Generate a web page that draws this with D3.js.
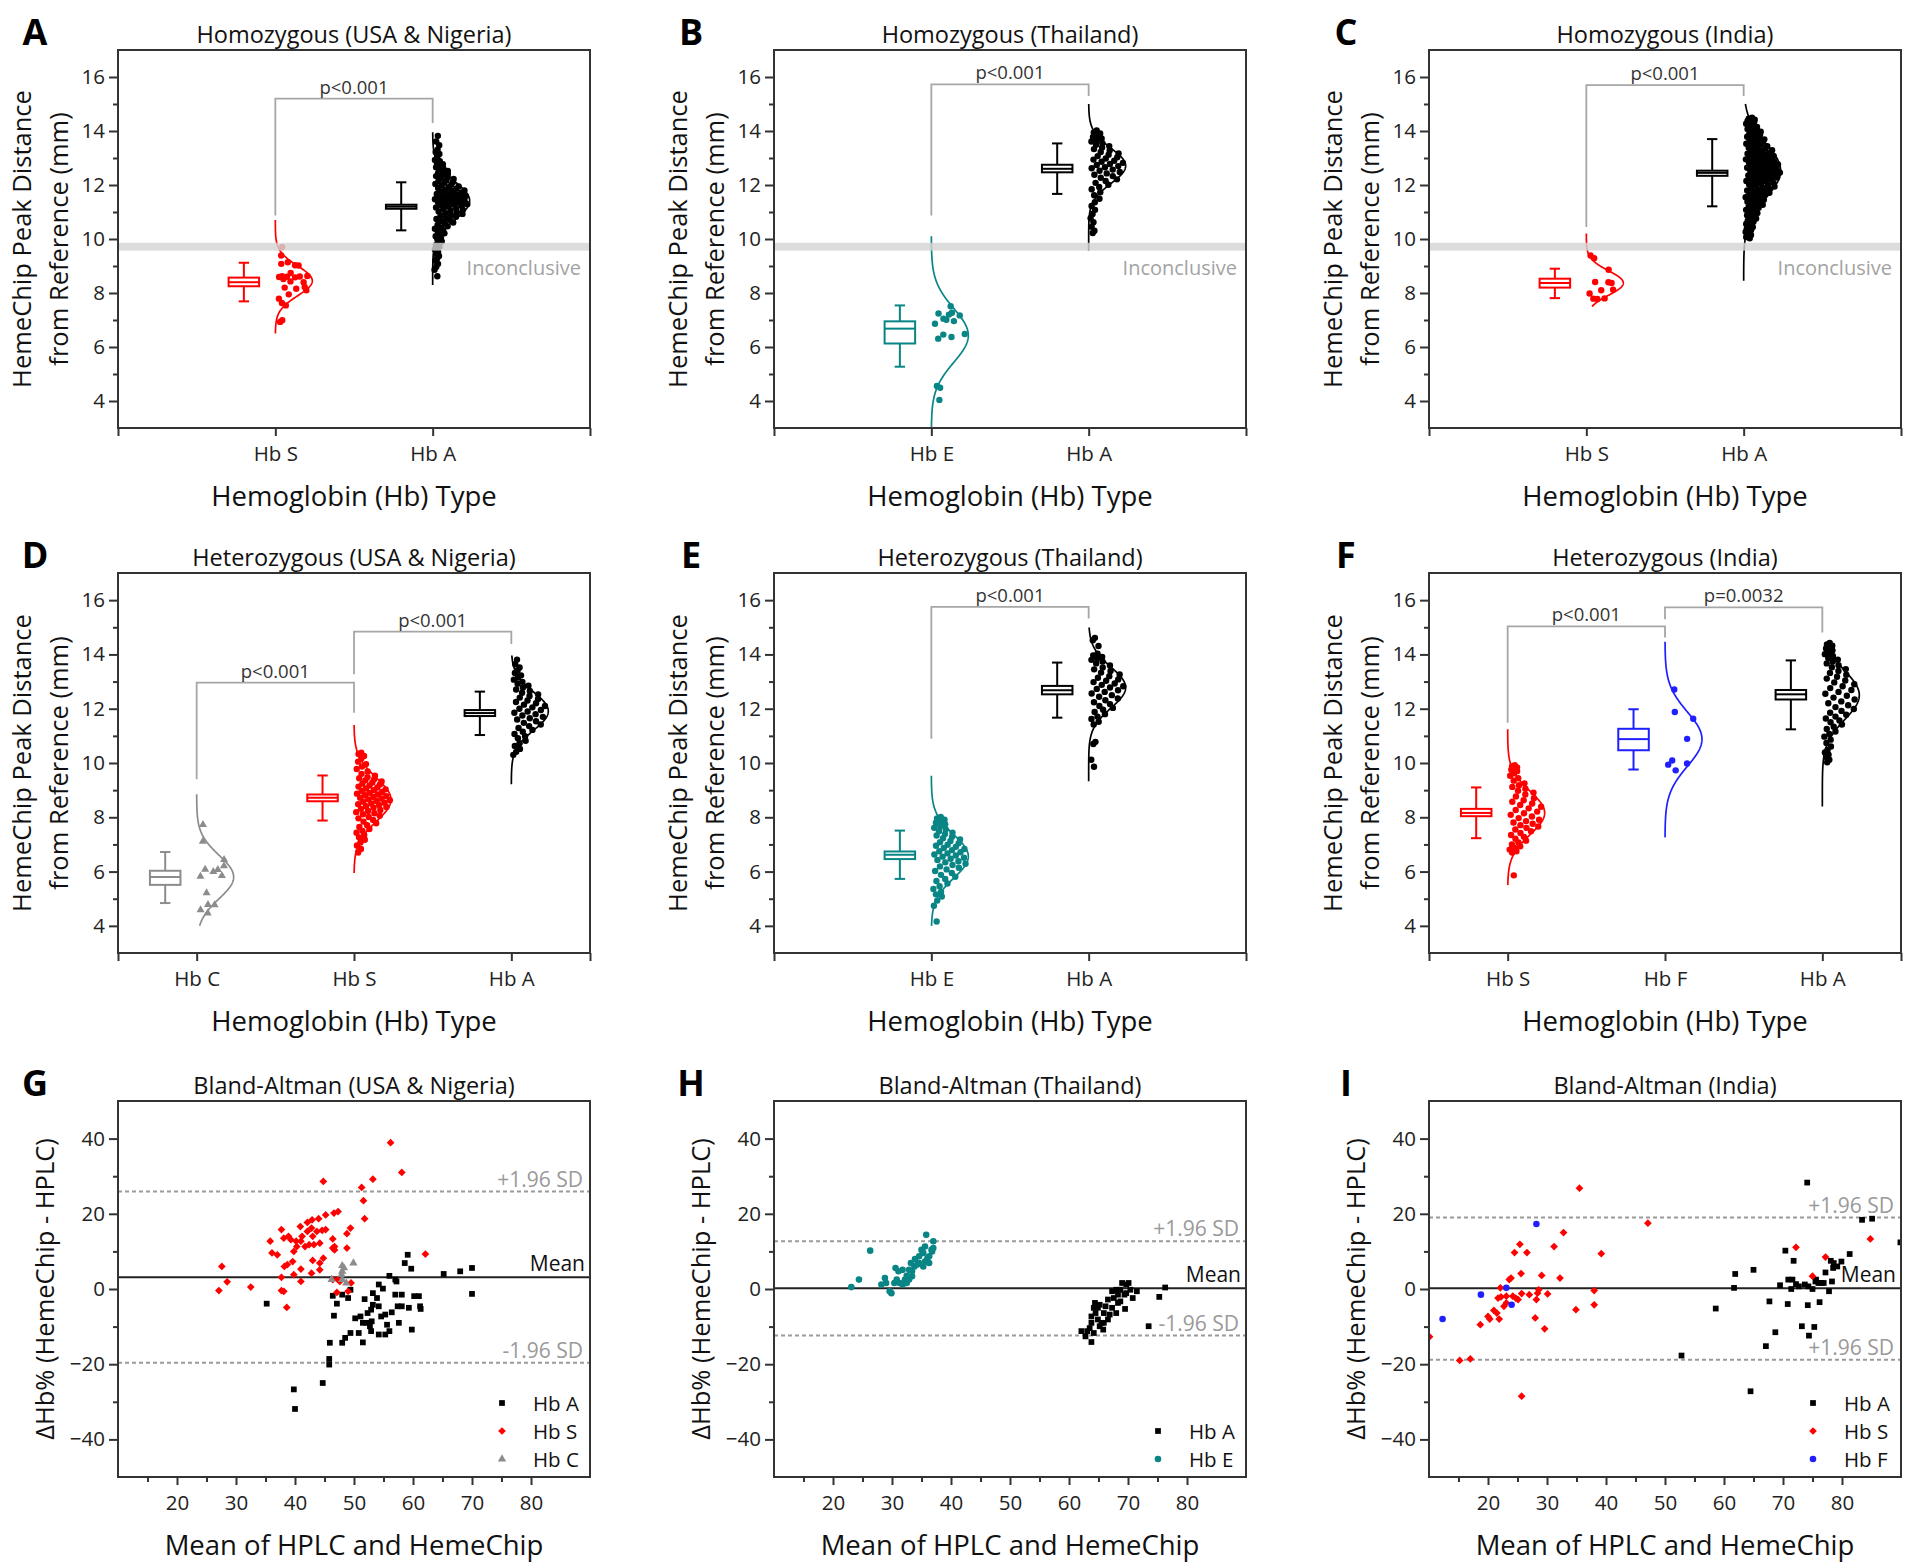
<!DOCTYPE html>
<html><head><meta charset="utf-8">
<script src="https://cdn.jsdelivr.net/npm/d3@7"></script>
<style>body{margin:0;background:#fff}</style>
</head><body>
<script>
// ---------------- DATA ----------------
// Panel A: Homozygous (USA & Nigeria)
const catsA = ["Hb S","Hb A"];
const ptsA_S = [9.70,9.39,9.02,9.14,9.08,9.03,8.74,8.59,8.61,8.60,8.63,8.58,8.62,8.40,8.43,8.10,8.16,8.20,8.22,7.95,7.79,7.54,7.63,6.99,6.93,8.52];
const ptsA_A = [13.82,13.61,13.47,13.31,13.22,13.15,13.04,12.93,12.88,12.81,12.77,12.72,12.66,12.61,12.57,12.52,12.48,12.44,12.41,12.37,12.33,12.29,12.26,12.22,12.18,12.15,12.11,12.08,12.04,12.01,11.98,11.95,11.92,11.89,11.86,11.83,11.80,11.78,11.75,11.72,11.70,11.67,11.64,11.62,11.59,11.57,11.54,11.52,11.49,11.47,11.45,11.43,11.41,11.38,11.36,11.34,11.31,11.29,11.27,11.24,11.22,11.19,11.17,11.14,11.11,11.08,11.05,11.02,10.99,10.96,10.93,10.89,10.86,10.82,10.78,10.74,10.70,10.66,10.61,10.57,10.52,10.47,10.43,10.38,10.33,10.27,10.21,10.16,10.10,10.04,9.98,9.91,9.84,9.77,9.72,9.68,9.61,9.53,9.45,9.37,9.28,9.19,9.08,8.97,8.86,8.62];
const boxA = [[7.69,8.25,8.40,8.57,9.12],[10.32,11.12,11.20,11.27,12.10]];
const curveA = [[8.45,0.55,6.5,10.7],[11.42,0.70,8.3,13.95]]; // mean, sd, from, to
const bracketA = [[1,2,15.2,10.87,14.3,"p<0.001"]];

// Panel B: Homozygous (Thailand)
const catsB = ["Hb E","Hb A"];
const ptsB_E = [7.27,7.05,7.17,7.20,7.24,7.51,7.01,6.86,6.96,6.46,6.48,6.37,6.31,4.49,4.56,4.04];
const ptsB_A = [14.02,13.95,13.91,13.84,13.78,13.72,13.66,13.61,13.55,13.49,13.44,13.39,13.33,13.28,13.22,13.17,13.12,13.07,13.03,12.98,12.94,12.90,12.86,12.82,12.78,12.74,12.70,12.66,12.62,12.57,12.53,12.48,12.43,12.38,12.33,12.27,12.21,12.15,12.08,12.01,11.93,11.84,11.73,11.62,11.49,11.36,11.22,11.08,10.93,10.77,10.62,10.45,10.31,10.22];
const boxB = [[5.27,6.13,6.68,6.95,7.54],[11.67,12.47,12.60,12.75,13.54]];
const curveB = [[6.43,1.0,2.8,10.1],[12.71,0.65,9.57,15.0]];
const bracketB = [[1,2,15.73,10.87,15.3,"p<0.001"]];

// Panel C: Homozygous (India)
const catsC = ["Hb S","Hb A"];
const ptsC_S = [9.29,9.39,8.86,8.40,8.41,8.12,8.10,7.98,8.37,7.79,7.80,7.78];
const ptsC_A = [14.49,14.46,14.42,14.40,14.37,14.33,14.30,14.27,14.22,14.18,14.15,14.11,14.07,14.04,14.01,13.97,13.93,13.90,13.86,13.83,13.79,13.76,13.72,13.69,13.66,13.62,13.59,13.56,13.53,13.50,13.47,13.44,13.41,13.38,13.35,13.32,13.29,13.26,13.24,13.21,13.18,13.16,13.13,13.10,13.08,13.05,13.03,13.00,12.98,12.95,12.93,12.90,12.88,12.85,12.83,12.81,12.78,12.76,12.74,12.71,12.69,12.67,12.64,12.62,12.60,12.58,12.55,12.53,12.51,12.49,12.46,12.44,12.42,12.39,12.37,12.35,12.32,12.30,12.28,12.25,12.23,12.20,12.18,12.15,12.13,12.10,12.08,12.05,12.02,12.00,11.97,11.94,11.91,11.89,11.86,11.83,11.80,11.77,11.74,11.71,11.68,11.65,11.62,11.59,11.55,11.52,11.49,11.45,11.42,11.38,11.35,11.31,11.27,11.24,11.20,11.16,11.12,11.08,11.04,11.00,10.96,10.92,10.88,10.84,10.80,10.76,10.72,10.68,10.64,10.60,10.56,10.52,10.48,10.44,10.40,10.37,10.33,10.30,10.26,10.23,10.19,10.15,10.11,10.07,10.03];
const boxC = [[7.81,8.20,8.37,8.53,8.90],[11.21,12.34,12.45,12.53,13.70]];
const curveC = [[8.37,0.45,7.5,10.2],[12.53,1.0,8.45,15.0]];
const bracketC = [[1,2,15.7,10.44,15.3,"p<0.001"]];

// Panel D: Heterozygous (USA & Nigeria)
const catsD = ["Hb C","Hb S","Hb A"];
const ptsD_C = [7.73,7.11,6.44,6.07,6.08,6.21,6.00,5.82,5.85,5.21,4.77,4.78,4.59,4.47];
const ptsD_S = [10.38,10.33,10.26,10.17,10.05,9.96,9.87,9.78,9.69,9.60,9.53,9.48,9.44,9.40,9.36,9.32,9.28,9.24,9.21,9.17,9.13,9.10,9.06,9.03,9.00,8.97,8.93,8.90,8.87,8.84,8.81,8.78,8.75,8.72,8.69,8.66,8.63,8.60,8.57,8.54,8.51,8.48,8.45,8.41,8.38,8.35,8.31,8.27,8.23,8.19,8.15,8.11,8.06,8.01,7.96,7.90,7.84,7.78,7.71,7.64,7.57,7.50,7.43,7.35,7.26,7.17,7.07,6.96,6.83,6.70];
const ptsD_A = [13.81,13.64,13.52,13.41,13.32,13.23,13.15,13.07,12.99,12.92,12.85,12.78,12.71,12.65,12.59,12.53,12.47,12.41,12.36,12.30,12.25,12.20,12.15,12.10,12.05,12.00,11.95,11.90,11.85,11.80,11.75,11.70,11.65,11.60,11.54,11.48,11.42,11.36,11.29,11.22,11.15,11.07,10.99,10.91,10.82,10.73,10.63,10.52,10.41,10.30];
const boxD = [[4.84,5.51,5.80,6.03,6.72],[7.88,8.59,8.72,8.84,9.54],[11.03,11.73,11.84,11.95,12.63]];
const curveD = [[5.80,0.80,4.0,8.85],[8.65,0.80,5.95,11.4],[11.91,0.70,9.22,13.96]];
const bracketD = [[1,2,12.96,9.4,11.85,"p<0.001"],[2,3,14.84,13.27,14.38,"p<0.001"]];

// Panel E: Heterozygous (Thailand)
const catsE = ["Hb E","Hb A"];
const ptsE_E = [8.01,7.96,7.91,7.86,7.80,7.74,7.67,7.61,7.55,7.49,7.43,7.38,7.33,7.28,7.23,7.18,7.13,7.08,7.04,6.99,6.95,6.91,6.87,6.83,6.79,6.75,6.71,6.67,6.63,6.59,6.55,6.51,6.47,6.43,6.38,6.34,6.29,6.24,6.19,6.14,6.08,6.02,5.95,5.88,5.81,5.73,5.65,5.56,5.46,5.36,5.25,5.16,5.08,4.93,4.74,4.16];
const ptsE_A = [14.61,14.52,14.31,14.03,13.96,13.91,13.86,13.80,13.74,13.67,13.59,13.52,13.45,13.39,13.33,13.26,13.20,13.14,13.08,13.03,12.98,12.93,12.88,12.83,12.78,12.73,12.68,12.62,12.56,12.50,12.44,12.38,12.31,12.24,12.17,12.10,12.03,11.96,11.88,11.80,11.71,11.62,11.52,11.42,10.78,10.70,10.12,9.86];
const boxE = [[5.73,6.46,6.62,6.74,7.51],[11.67,12.53,12.68,12.84,13.70]];
const curveE = [[6.56,0.80,4.0,9.53],[12.78,0.75,9.33,14.99]];
const bracketE = [[1,2,15.75,10.89,15.32,"p<0.001"]];

// Panel F: Heterozygous (India)
const catsF = ["Hb S","Hb F","Hb A"];
const ptsF_S = [9.92,9.88,9.84,9.80,9.75,9.70,9.62,9.53,9.44,9.35,9.25,9.18,9.12,9.05,8.98,8.91,8.84,8.77,8.70,8.63,8.57,8.51,8.45,8.39,8.33,8.27,8.21,8.15,8.09,8.03,7.97,7.91,7.86,7.81,7.76,7.71,7.66,7.61,7.55,7.49,7.42,7.35,7.28,7.21,7.14,7.07,7.00,6.93,6.87,6.81,6.75,6.70,5.86];
const ptsF_F = [12.71,11.88,11.63,10.89,10.09,9.98,9.73,9.94];
const ptsF_A = [14.42,14.37,14.32,14.27,14.22,14.15,14.08,14.01,13.94,13.87,13.81,13.74,13.67,13.60,13.53,13.46,13.39,13.32,13.25,13.18,13.11,13.04,12.97,12.90,12.83,12.76,12.69,12.62,12.55,12.48,12.41,12.34,12.27,12.20,12.13,12.06,11.99,11.92,11.85,11.78,11.71,11.64,11.57,11.50,11.42,11.34,11.25,11.16,11.07,10.97,10.86,10.74,10.61,10.48,10.39,10.31,10.22,10.12,10.03];
const boxF = [[7.23,8.04,8.16,8.31,9.10],[9.76,10.47,10.88,11.26,11.98],[11.24,12.34,12.53,12.69,13.78]];
const curveF = [[8.16,0.80,5.5,11.24],[10.88,1.0,7.26,14.47],[12.50,0.90,8.4,14.1]];
const bracketF = [[1,2,15.03,11.48,14.62,"p<0.001"],[2,3,15.73,15.3,14.81,"p=0.0032"]];

const inconclusiveBand = [9.57,9.86];
const yTicksCat = [4,6,8,10,12,14,16];

// Bland-Altman G (USA & Nigeria): [mean, diff]
const baG_A = [[59.1,9.1],[58.6,6.9],[59.7,5.4],[57.0,2.5],[56.0,3.5],[57.2,2.0],[65.2,4.0],[68.0,4.7],[70.0,5.6],[70.0,-1.3],[54.2,1.2],[54.9,0.1],[53.2,-1.1],[51.8,-2.7],[49.4,-0.2],[49.0,-2.4],[48.0,-1.5],[46.4,-1.8],[46.6,-7.1],[47.1,-3.9],[45.9,-14.3],[48.0,-14.3],[48.5,-13.0],[49.4,-11.7],[50.8,-11.7],[51.5,-14.2],[51.1,-7.3],[51.5,-9.0],[52.3,-6.4],[52.9,-5.5],[53.2,-4.2],[53.9,-2.4],[54.2,-4.6],[54.6,-7.3],[55.3,-6.8],[55.6,-9.5],[56.0,-11.2],[55.3,-12.1],[54.2,-12.1],[52.9,-11.2],[52.2,-9.0],[52.7,-9.9],[57.0,-1.5],[57.4,-4.6],[58.1,-4.6],[57.6,-9.0],[59.8,-10.8],[60.2,-1.9],[61.2,-4.6],[61.3,-5.3],[61.0,-1.9],[59.3,-5.0],[58.1,-1.5],[35.2,-3.9],[45.8,-18.6],[45.8,-20.1],[44.7,-25.0],[39.8,-26.7],[40.0,-31.9],[50.2,-7.8],[53.0,-8.6],[56.4,-6.2]];
const baG_S = [[56.2,38.9],[58.1,31.0],[53.2,29.2],[44.8,28.6],[51.3,27.0],[51.6,23.5],[51.8,18.7],[47.3,20.6],[46.6,20.2],[45.2,19.7],[44.0,18.7],[42.9,18.4],[42.1,17.7],[40.9,16.6],[39.3,13.1],[40.2,12.7],[38.1,13.5],[37.7,15.8],[35.8,12.7],[36.1,9.6],[37.0,9.1],[39.8,10.0],[41.0,12.7],[41.7,11.3],[42.4,11.8],[43.2,11.8],[44.2,12.2],[43.0,14.0],[43.7,15.3],[42.8,16.2],[44.6,15.6],[45.2,15.8],[46.4,13.3],[46.4,10.9],[46.7,11.3],[48.8,14.7],[49.4,16.2],[48.8,10.9],[43.0,7.6],[44.2,6.9],[44.2,5.1],[41.0,5.3],[42.8,4.2],[39.6,7.3],[38.7,6.5],[39.8,3.8],[37.7,3.1],[41.0,2.0],[47.3,2.5],[46.4,2.5],[47.6,2.0],[47.1,-0.9],[49.5,1.6],[62.1,9.3],[27.6,6.0],[28.5,1.9],[27.1,-0.4],[32.5,0.5],[38.1,-0.6],[37.7,-0.4],[38.6,-4.9],[44.8,8.2],[46.7,10.4],[41.2,14.0],[42.1,15.3],[38.9,14.0],[40.3,11.3],[38.2,6.0],[49.0,-0.6]];
const baG_C = [[48.0,6.2],[48.3,5.6],[48.0,4.7],[47.9,3.8],[49.9,6.9],[46.2,2.5],[48.7,1.6],[48.0,2.5]];
const limitsG = [3.1,25.9,-19.6];

// Bland-Altman H (Thailand)
const baH_A = [[62.1,-11.2],[62.8,-12.6],[63.8,-14.1],[63.5,-10.4],[63.8,-9.0],[63.8,-7.3],[64.2,-5.0],[64.5,-6.4],[64.9,-8.1],[65.2,-9.9],[65.5,-9.0],[65.8,-10.8],[65.9,-6.4],[66.2,-4.6],[66.6,-2.8],[66.9,-6.8],[67.3,-5.0],[67.6,-2.4],[68.0,-0.2],[68.3,-1.5],[68.7,-3.3],[69.0,1.6],[69.4,-1.5],[69.7,1.2],[70.1,1.6],[70.8,-2.4],[71.5,-0.6],[69.5,-5.3],[68.3,-3.7],[73.5,-9.9],[75.3,-2.1],[76.3,0.4],[65.2,-4.2],[64.4,-3.7],[66.6,-8.1],[68.0,-6.4],[65.9,-9.0],[67.3,-0.6],[68.7,-0.2],[69.7,-1.1],[63.1,-11.2],[64.2,-11.7],[64.9,-5.0],[70.4,-0.2]];
const baH_E = [[23.1,0.5],[24.4,2.5],[26.3,10.2],[28.2,1.2],[28.8,2.9],[29.6,-0.6],[29.9,-1.1],[30.4,1.6],[30.6,5.6],[31.1,4.7],[31.8,1.2],[32.2,2.5],[32.5,3.5],[32.9,5.1],[33.2,6.9],[33.4,3.4],[33.9,8.0],[34.3,6.5],[34.6,8.7],[35.0,10.4],[35.3,9.6],[35.6,11.3],[35.8,14.4],[36.0,8.2],[36.3,6.9],[36.7,10.4],[37.0,12.7],[37.0,10.9],[33.8,6.0],[32.9,2.5],[31.8,5.1],[30.8,2.5],[35.3,6.0],[35.6,7.3],[36.3,8.7],[33.4,4.7],[32.5,1.6],[31.3,1.6],[29.0,1.6],[34.6,6.9],[36.8,10.0]];
const limitsH = [0.2,12.7,-12.4];

// Bland-Altman I (India)
const baI_A = [[52.8,-17.7],[58.6,-5.2],[61.9,4.0],[61.7,0.3],[65.0,5.1],[64.5,-27.2],[67.1,-15.2],[67.7,-3.3],[68.7,-11.5],[69.5,1.0],[70.4,10.2],[70.8,-4.0],[71.4,0.0],[71.6,2.5],[71.8,7.5],[72.2,1.3],[72.7,0.7],[73.2,-9.9],[74.1,28.3],[74.2,-4.3],[74.3,0.7],[74.4,-12.4],[75.0,0.0],[75.3,-10.1],[75.5,2.0],[76.0,1.6],[76.2,-3.5],[76.5,1.6],[76.9,1.6],[77.2,4.4],[77.8,-0.6],[78.1,7.5],[78.3,2.0],[78.5,5.6],[79.2,6.0],[79.9,7.3],[81.3,9.3],[83.4,18.4],[85.1,18.7],[89.9,12.4],[78.6,6.9],[70.9,2.5],[73.7,1.2],[75.6,2.5]];
const baI_S = [[10.1,-12.7],[15.2,-19.0],[17.0,-18.6],[18.7,-9.5],[20.0,-7.3],[20.3,-8.0],[21.0,-5.7],[21.5,-6.4],[21.9,-8.0],[21.7,-2.4],[22.1,0.3],[22.7,-4.6],[23.1,-1.9],[23.6,2.5],[23.9,2.9],[24.2,-1.9],[24.5,9.7],[24.7,-2.4],[25.1,-2.8],[25.4,11.9],[25.6,4.1],[25.7,-1.2],[26.6,9.7],[27.0,-1.5],[28.0,-7.7],[28.2,-2.8],[28.4,-1.1],[28.6,-0.2],[29.1,3.6],[29.6,-10.6],[30.1,-1.3],[31.2,11.3],[32.2,2.9],[32.8,15.0],[34.9,-5.5],[35.5,26.8],[38.0,-0.4],[38.0,-4.2],[39.2,9.4],[47.1,17.5],[25.7,-28.5],[72.2,11.1],[75.0,3.4],[77.2,8.5],[84.8,13.3],[22.2,-2.1],[23.1,-3.7]];
const baI_F = [[12.3,-8.0],[18.8,-1.5],[23.1,0.3],[24.0,-4.2],[28.2,17.3]];
const limitsI = [0.2,19.0,-18.8];

const xTicksBA = [20,30,40,50,60,70,80];
const yTicksBA = [-40,-20,0,20,40];

// ---------------- STYLE / LAYOUT ----------------
const RED="#ff0000", BLACK="#000000", TEAL="#0a8585", GRAY="#8c8c8c", BLUE="#1f1fff";
const AX="#333333";
const FONT='"Open Sans", "Noto Sans", sans-serif';
const catColor={"Hb S":RED,"Hb A":BLACK,"Hb E":TEAL,"Hb C":GRAY,"Hb F":BLUE};
const colLeft=[118,774,1429], plotW=472;
const rowTop=[50,573,1101], rowBot=[428,953,1477];

const svg=d3.select("body").append("svg").attr("width",1920).attr("height",1568)
  .style("font-family",FONT);

function styleAxis(sel){
  sel.select(".domain").remove();
  sel.selectAll(".tick line").attr("stroke",AX).attr("stroke-width",2);
  sel.selectAll(".tick text").attr("fill","#222").style("font-size","20.5px").style("font-family",FONT);
}

function commonFrame(g,L,T,R,B,letter,title,xTitle,yLines){
  g.append("rect").attr("x",L).attr("y",T).attr("width",R-L).attr("height",B-T)
    .attr("fill","none").attr("stroke",AX).attr("stroke-width",2);
  g.append("text").attr("x",L-83).attr("y",T-5).attr("text-anchor","middle")
    .style("font-size","36px").style("font-weight","bold").attr("fill","#000").text(letter);
  g.append("text").attr("x",(L+R)/2).attr("y",T-7).attr("text-anchor","middle")
    .style("font-size","23.5px").attr("fill","#111").text(title);
  g.append("text").attr("x",(L+R)/2).attr("y",B+78).attr("text-anchor","middle")
    .style("font-size","27.5px").attr("fill","#111").text(xTitle);
  const yc=(T+B)/2;
  yLines.forEach(([txt,dx])=>{
    g.append("text").attr("transform",`translate(${L-dx},${yc}) rotate(-90)`)
      .attr("text-anchor","middle").attr("dominant-baseline","central")
      .style("font-size","25.5px").attr("fill","#111").text(txt);
  });
}

function catPanel(p){
  const L=colLeft[p.col], R=L+plotW, T=rowTop[p.row], B=rowBot[p.row];
  const n=p.cats.length;
  const dom=n===2?[0,3]:[0.5,3.5];
  const x=d3.scaleLinear().domain(dom).range([L,R]);
  const y=d3.scaleLinear().domain([3,17]).range([B,T]);
  const g=svg.append("g");
  const cid="clip"+p.letter;
  g.append("clipPath").attr("id",cid).append("rect").attr("x",L).attr("y",T).attr("width",plotW).attr("height",B-T);
  const pg=g.append("g").attr("clip-path",`url(#${cid})`);
  const u0=x(0);
  const amp=0.235;
  p.cats.forEach((c,i)=>{
    const cx=i+1, col=catColor[c];
    const [m,sd,lo,hi]=p.curves[i];
    const pdf=v=>Math.exp(-0.5*((v-m)/sd)**2);
    const ys=d3.range(0,241).map(k=>lo+(hi-lo)*k/240);
    pg.append("path").attr("d",d3.line().x(v=>x(cx+amp*pdf(v))).y(v=>y(v))(ys))
      .attr("fill","none").attr("stroke",col).attr("stroke-width",1.7);
    p.points[i].forEach((v,k)=>{
      const u=((k+1)*0.6180339887+0.11)%1;
      const f=0.12+0.82*pdf(v);
      const px=x(cx+0.012+amp*u*f), py=y(v);
      if(c==="Hb C"){
        pg.append("path").attr("d",d3.symbol(d3.symbolTriangle,28)()).attr("transform",`translate(${px},${py})`).attr("fill",col);
      } else {
        pg.append("circle").attr("cx",px).attr("cy",py).attr("r",3.2).attr("fill",col);
      }
    });
    const [w0,q1,md,q3,w1]=p.boxes[i];
    const bx=x(cx-0.2), hw=x(0.097)-u0, cw=x(0.033)-u0;
    const bg=pg.append("g").attr("stroke",col).attr("stroke-width",2).attr("fill","none");
    bg.append("line").attr("x1",bx).attr("x2",bx).attr("y1",y(w1)).attr("y2",y(q3));
    bg.append("line").attr("x1",bx).attr("x2",bx).attr("y1",y(q1)).attr("y2",y(w0));
    bg.append("line").attr("x1",bx-cw).attr("x2",bx+cw).attr("y1",y(w1)).attr("y2",y(w1));
    bg.append("line").attr("x1",bx-cw).attr("x2",bx+cw).attr("y1",y(w0)).attr("y2",y(w0));
    bg.append("rect").attr("x",bx-hw).attr("y",y(q3)).attr("width",2*hw).attr("height",y(q1)-y(q3)).attr("fill","#fff");
    bg.append("line").attr("x1",bx-hw).attr("x2",bx+hw).attr("y1",y(md)).attr("y2",y(md));
  });
  if(p.row===0){
    pg.append("rect").attr("x",L).attr("width",plotW).attr("y",y(inconclusiveBand[1]))
      .attr("height",y(inconclusiveBand[0])-y(inconclusiveBand[1])).attr("fill","#d4d4d4").attr("opacity",0.82);
    g.append("text").attr("x",R-9).attr("y",y(inconclusiveBand[0])+24).attr("text-anchor","end")
      .style("font-size","20px").attr("fill","#a3a3a3").text("Inconclusive");
  }
  p.brackets.forEach(([a,b,top,ea,eb,lab])=>{
    g.append("path").attr("d",`M${x(a)},${y(ea)}V${y(top)}H${x(b)}V${y(eb)}`)
      .attr("fill","none").attr("stroke","#a6a6a6").attr("stroke-width",1.8);
    g.append("text").attr("x",(x(a)+x(b))/2).attr("y",y(top)-5).attr("text-anchor","middle")
      .style("font-size","18.5px").attr("fill","#333").text(lab);
  });
  const xa=g.append("g").attr("transform",`translate(0,${B})`)
    .call(d3.axisBottom(x).tickValues([dom[0],...d3.range(1,n+1),dom[1]]).tickSize(8).tickPadding(10)
      .tickFormat(v=>Number.isInteger(v)&&v>=1&&v<=n?p.cats[v-1]:""));
  styleAxis(xa);
  const ya=g.append("g").attr("transform",`translate(${L},0)`)
    .call(d3.axisLeft(y).tickValues(yTicksCat).tickSize(9).tickPadding(4));
  styleAxis(ya);
  const ym=g.append("g").attr("transform",`translate(${L},0)`)
    .call(d3.axisLeft(y).tickValues(yTicksCat.map(v=>v+1).slice(0,6)).tickSize(5).tickFormat(""));
  styleAxis(ym);
  commonFrame(g,L,T,R,B,p.letter,p.title,"Hemoglobin (Hb) Type",[["HemeChip Peak Distance",97],["from Reference (mm)",60]]);
}

const symbols={square:[d3.symbolSquare,33,0],diamond:[d3.symbolSquare,30,45],triangle:[d3.symbolTriangle,30,0],circle:[d3.symbolCircle,34,0]};

function baPanel(p){
  const L=colLeft[p.col], R=L+plotW, T=rowTop[2], B=rowBot[2];
  const x=d3.scaleLinear().domain([10,90]).range([L,R]);
  const y=d3.scaleLinear().domain([-50,50]).range([B,T]);
  const g=svg.append("g");
  const cid="clip"+p.letter;
  g.append("clipPath").attr("id",cid).append("rect").attr("x",L).attr("y",T).attr("width",plotW).attr("height",B-T);
  const pg=g.append("g").attr("clip-path",`url(#${cid})`);
  const [mn,up,lo]=p.limits;
  [up,lo].forEach(v=>pg.append("line").attr("x1",L).attr("x2",R).attr("y1",y(v)).attr("y2",y(v))
    .attr("stroke","#9a9a9a").attr("stroke-width",2).attr("stroke-dasharray","4,3"));
  pg.append("line").attr("x1",L).attr("x2",R).attr("y1",y(mn)).attr("y2",y(mn)).attr("stroke","#222").attr("stroke-width",2);
  p.series.forEach(s=>{
    const [sym,sz,rot]=symbols[s.shape];
    s.data.forEach(([a,b])=>{
      pg.append("path").attr("d",d3.symbol(sym,sz)()).attr("transform",`translate(${x(a)},${y(b)}) rotate(${rot})`).attr("fill",s.color);
    });
  });
  const labs=p.limitLabels;
  g.append("text").attr("x",R-7).attr("y",y(up)-5).attr("text-anchor","end").style("font-size","21px").attr("fill","#999").text(labs[1]);
  g.append("text").attr("x",R-5).attr("y",y(mn)-6).attr("text-anchor","end").style("font-size","21px").attr("fill","#111").text(labs[0]);
  g.append("text").attr("x",R-7).attr("y",y(lo)-5).attr("text-anchor","end").style("font-size","21px").attr("fill","#999").text(labs[2]);
  const nL=p.series.length;
  p.series.forEach((s,i)=>{
    const yy=B-18-28*(nL-1-i);
    const [sym,sz,rot]=symbols[s.shape];
    g.append("path").attr("d",d3.symbol(sym,sz)()).attr("transform",`translate(${R-88},${yy}) rotate(${rot})`).attr("fill",s.color);
    g.append("text").attr("x",R-57).attr("y",yy).attr("dominant-baseline","central").style("font-size","20.5px").attr("fill","#111").text(s.name);
  });
  const xa=g.append("g").attr("transform",`translate(0,${B})`)
    .call(d3.axisBottom(x).tickValues(xTicksBA).tickSize(8).tickPadding(10));
  styleAxis(xa);
  const xm=g.append("g").attr("transform",`translate(0,${B})`)
    .call(d3.axisBottom(x).tickValues(xTicksBA.map(v=>v+5).slice(0,6).concat([15])).tickSize(5).tickFormat(""));
  styleAxis(xm);
  const ya=g.append("g").attr("transform",`translate(${L},0)`)
    .call(d3.axisLeft(y).tickValues(yTicksBA).tickSize(9).tickPadding(4));
  styleAxis(ya);
  const ym=g.append("g").attr("transform",`translate(${L},0)`)
    .call(d3.axisLeft(y).tickValues([-30,-10,10,30]).tickSize(5).tickFormat(""));
  styleAxis(ym);
  commonFrame(g,L,T,R,B,p.letter,p.title,"Mean of HPLC and HemeChip",[["ΔHb% (HemeChip - HPLC)",74]]);
}

catPanel({letter:"A",row:0,col:0,title:"Homozygous (USA & Nigeria)",cats:catsA,points:[ptsA_S,ptsA_A],boxes:boxA,curves:curveA,brackets:bracketA});
catPanel({letter:"B",row:0,col:1,title:"Homozygous (Thailand)",cats:catsB,points:[ptsB_E,ptsB_A],boxes:boxB,curves:curveB,brackets:bracketB});
catPanel({letter:"C",row:0,col:2,title:"Homozygous (India)",cats:catsC,points:[ptsC_S,ptsC_A],boxes:boxC,curves:curveC,brackets:bracketC});
catPanel({letter:"D",row:1,col:0,title:"Heterozygous (USA & Nigeria)",cats:catsD,points:[ptsD_C,ptsD_S,ptsD_A],boxes:boxD,curves:curveD,brackets:bracketD});
catPanel({letter:"E",row:1,col:1,title:"Heterozygous (Thailand)",cats:catsE,points:[ptsE_E,ptsE_A],boxes:boxE,curves:curveE,brackets:bracketE});
catPanel({letter:"F",row:1,col:2,title:"Heterozygous (India)",cats:catsF,points:[ptsF_S,ptsF_F,ptsF_A],boxes:boxF,curves:curveF,brackets:bracketF});

baPanel({letter:"G",col:0,title:"Bland-Altman (USA & Nigeria)",limits:limitsG,limitLabels:["Mean","+1.96 SD","-1.96 SD"],
  series:[{name:"Hb A",shape:"square",color:BLACK,data:baG_A},{name:"Hb S",shape:"diamond",color:RED,data:baG_S},{name:"Hb C",shape:"triangle",color:GRAY,data:baG_C}]});
baPanel({letter:"H",col:1,title:"Bland-Altman (Thailand)",limits:limitsH,limitLabels:["Mean","+1.96 SD","-1.96 SD"],
  series:[{name:"Hb A",shape:"square",color:BLACK,data:baH_A},{name:"Hb E",shape:"circle",color:TEAL,data:baH_E}]});
baPanel({letter:"I",col:2,title:"Bland-Altman (India)",limits:limitsI,limitLabels:["Mean","+1.96 SD","+1.96 SD"],
  series:[{name:"Hb A",shape:"square",color:BLACK,data:baI_A},{name:"Hb S",shape:"diamond",color:RED,data:baI_S},{name:"Hb F",shape:"circle",color:BLUE,data:baI_F}]});
</script>
</body></html>
